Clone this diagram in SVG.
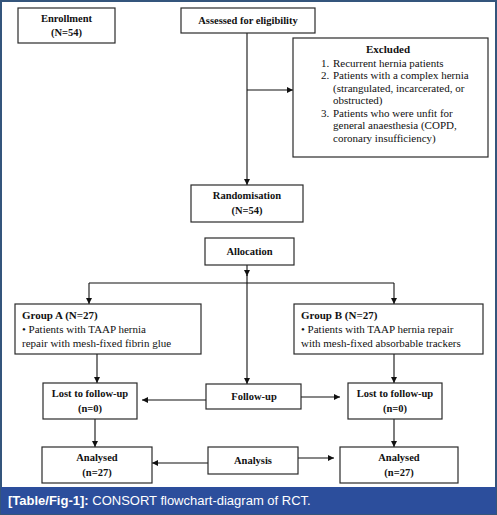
<svg xmlns="http://www.w3.org/2000/svg" width="497" height="515" viewBox="0 0 497 515">
<style>
.box{fill:#fff;stroke:#2a2a2a;stroke-width:1.2}
.b{font-family:"Liberation Serif","Times New Roman",serif;font-weight:bold;font-size:10.5px;fill:#111;text-anchor:middle}
.bl{font-family:"Liberation Serif","Times New Roman",serif;font-weight:bold;font-size:11px;fill:#111}
.r{font-family:"Liberation Serif","Times New Roman",serif;font-size:11px;fill:#111}
.c{fill:none;stroke:#111;stroke-width:1.1}
.cap{font-family:"Liberation Sans",Arial,sans-serif;font-size:13px;fill:#fff}
</style>
<defs>
<marker id="ah" markerWidth="6" markerHeight="6" refX="6" refY="3" orient="auto" markerUnits="userSpaceOnUse">
<path d="M0,0 L6,3 L0,6 Z" fill="#111"/>
</marker>
</defs>
<rect x="0" y="0" width="497" height="515" fill="#fff"/>
<rect x="1" y="1" width="495" height="513" fill="none" stroke="#34557c" stroke-width="2"/>

<g id="connectors">
<line class="c" x1="247" y1="33" x2="247" y2="185" marker-end="url(#ah)"/>
<line class="c" x1="247" y1="90" x2="293" y2="90" marker-end="url(#ah)"/>
<line class="c" x1="247" y1="265" x2="247" y2="276" marker-end="url(#ah)"/>
<line class="c" x1="247" y1="275" x2="247" y2="384" marker-end="url(#ah)"/>
<line class="c" x1="89" y1="283" x2="394" y2="283"/>
<line class="c" x1="89" y1="283" x2="89" y2="304" marker-end="url(#ah)"/>
<line class="c" x1="394" y1="283" x2="394" y2="304" marker-end="url(#ah)"/>
<line class="c" x1="97" y1="354" x2="97" y2="383" marker-end="url(#ah)"/>
<line class="c" x1="394" y1="354" x2="394" y2="383" marker-end="url(#ah)"/>
<line class="c" x1="206" y1="400" x2="142" y2="400" marker-end="url(#ah)"/>
<line class="c" x1="301" y1="397" x2="340" y2="397" marker-end="url(#ah)"/>
<line class="c" x1="95" y1="419" x2="95" y2="447" marker-end="url(#ah)"/>
<line class="c" x1="394" y1="419" x2="394" y2="447" marker-end="url(#ah)"/>
<line class="c" x1="208" y1="463" x2="152" y2="463" marker-end="url(#ah)"/>
<line class="c" x1="298" y1="458" x2="334" y2="458" marker-end="url(#ah)"/>
</g>

<g id="enrollment">
<rect class="box" x="18" y="8" width="97" height="35"/>
<text class="b" x="66.5" y="22">Enrollment</text>
<text class="b" x="66.5" y="36">(N=54)</text>
</g>
<g id="assessed">
<rect class="box" x="181" y="8" width="134" height="25"/>
<text class="b" x="248" y="24">Assessed for eligibility</text>
</g>
<g id="excluded">
<rect class="box" x="293" y="38" width="195" height="119"/>
<text class="b" x="388" y="53" style="font-size:11px">Excluded</text>
<text class="r" x="321" y="67">1.</text>
<text class="r" x="333" y="67">Recurrent hernia patients</text>
<text class="r" x="321" y="79">2.</text>
<text class="r" x="333" y="79">Patients with a complex hernia</text>
<text class="r" x="333" y="92">(strangulated, incarcerated, or</text>
<text class="r" x="333" y="104">obstructed)</text>
<text class="r" x="321" y="117">3.</text>
<text class="r" x="333" y="117">Patients who were unfit for</text>
<text class="r" x="333" y="129">general anaesthesia (COPD,</text>
<text class="r" x="333" y="142">coronary insufficiency)</text>
</g>
<g id="randomisation">
<rect class="box" x="191" y="185" width="112" height="37"/>
<text class="b" x="247" y="199">Randomisation</text>
<text class="b" x="247" y="214">(N=54)</text>
</g>
<g id="allocation">
<rect class="box" x="205" y="238" width="89" height="27"/>
<text class="b" x="249.5" y="255">Allocation</text>
</g>
<g id="groupA">
<rect class="box" x="15" y="304" width="186" height="50"/>
<text class="bl" x="22" y="319">Group A (N=27)</text>
<text class="r" x="22" y="333">• Patients with TAAP hernia</text>
<text class="r" x="22" y="347">repair with mesh-fixed fibrin glue</text>
</g>
<g id="groupB">
<rect class="box" x="294" y="304" width="189" height="50"/>
<text class="bl" x="301" y="319">Group B (N=27)</text>
<text class="r" x="301" y="333">• Patients with TAAP hernia repair</text>
<text class="r" x="301" y="347">with mesh-fixed absorbable trackers</text>
</g>
<g id="lostA">
<rect class="box" x="43" y="383" width="94" height="36"/>
<text class="b" x="90" y="397">Lost to follow-up</text>
<text class="b" x="90" y="412">(n=0)</text>
</g>
<g id="followup">
<rect class="box" x="206" y="384" width="95" height="25"/>
<text class="b" x="254" y="400">Follow-up</text>
</g>
<g id="lostB">
<rect class="box" x="348" y="383" width="94" height="36"/>
<text class="b" x="395" y="397">Lost to follow-up</text>
<text class="b" x="395" y="412">(n=0)</text>
</g>
<g id="analysedA">
<rect class="box" x="42" y="447" width="110" height="36"/>
<text class="b" x="97" y="461">Analysed</text>
<text class="b" x="97" y="476">(n=27)</text>
</g>
<g id="analysis">
<rect class="box" x="208" y="447" width="90" height="27"/>
<text class="b" x="253" y="464">Analysis</text>
</g>
<g id="analysedB">
<rect class="box" x="340" y="447" width="118" height="36"/>
<text class="b" x="399" y="461">Analysed</text>
<text class="b" x="399" y="476">(n=27)</text>
</g>

<g id="caption">
<rect x="1" y="487" width="495" height="27" fill="#2c4e9c"/>
<text class="cap" x="8" y="505"><tspan font-weight="bold">[Table/Fig-1]:</tspan> CONSORT flowchart-diagram of RCT.</text>
</g>
</svg>
